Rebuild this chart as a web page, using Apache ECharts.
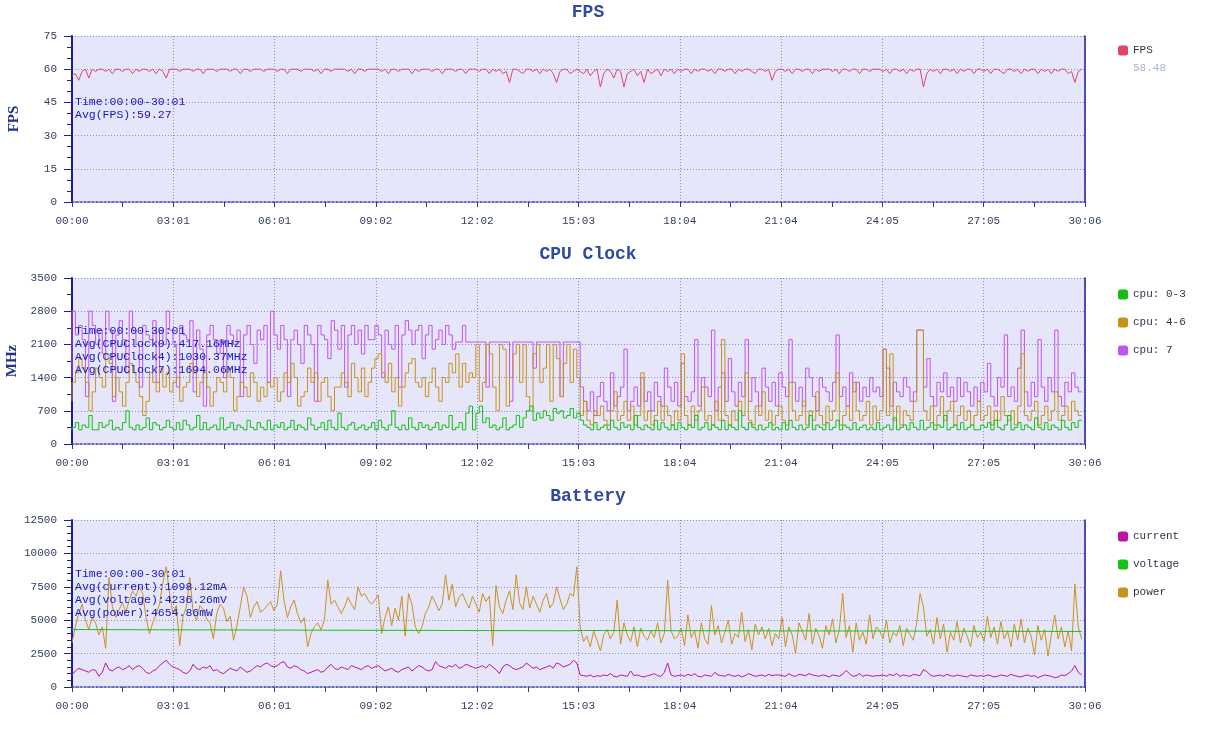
<!DOCTYPE html>
<html><head><meta charset="utf-8">
<script src="https://cdn.jsdelivr.net/npm/echarts@6/dist/echarts.min.js"></script>
<style>html,body{margin:0;padding:0;background:#fff}#c{width:1206px;height:732px}</style>
</head><body><div id="c"></div><script>
// ---- data ----
const DATA_SPAN = 1800; // seconds covered by each sampled series
const X_MAX = 1806;     // 30:06
const xTickLabels = ['00:00','03:01','06:01','09:02','12:02','15:03','18:04','21:04','24:05','27:05','30:06'];

// sampled every 6 s
const fps = [
57,58,55,59,60,56,60,59,60,60,59,60,58,60,60,59,60,60,58,60,59,60,60,59,60,58,60,59,56,60,
60,60,59,60,60,60,59,60,60,58,60,60,60,59,60,60,60,59,60,60,58,60,60,59,60,60,60,59,60,60,
60,59,60,60,58,60,60,60,59,60,60,60,59,60,58,60,60,59,60,60,60,60,59,60,58,60,60,59,60,60,
60,60,59,60,58,60,60,59,60,60,60,58,60,59,60,60,60,59,60,60,58,60,60,60,59,60,60,58,60,60,
60,59,60,60,58,60,59,60,58,59,54,60,60,59,58,60,60,59,60,58,60,59,60,58,54,59,60,60,58,59,
60,59,58,60,57,59,60,52,58,60,59,56,60,59,52,58,59,60,57,59,54,60,58,59,60,57,60,59,60,58,
60,59,60,60,58,60,59,60,60,59,60,58,60,60,59,60,60,58,60,59,60,60,59,58,60,60,59,60,55,59,
60,60,59,60,58,60,60,59,60,60,58,60,59,60,60,60,59,60,58,60,60,59,60,60,58,60,60,59,60,60,
60,59,60,58,60,60,59,60,58,60,59,60,60,52,58,60,59,60,58,60,60,59,60,58,60,59,60,60,58,60,
60,59,60,58,60,60,59,58,60,60,59,60,58,60,59,60,60,58,60,59,60,58,60,59,60,60,58,59,54,59,
60];

const cpu03 = [
300,350,450,300,400,350,600,300,300,450,350,400,500,300,350,300,450,700,350,300,400,300,350,550,300,450,400,300,350,500,
350,300,450,300,500,400,300,350,600,300,450,300,350,400,300,550,300,350,450,300,400,350,300,500,350,300,450,350,300,500,
300,400,350,450,300,350,500,300,400,350,300,550,400,300,350,450,300,500,350,300,650,350,300,400,450,300,350,400,300,350,
450,300,500,350,300,400,700,350,300,400,300,550,350,300,450,350,400,300,350,450,300,400,350,600,300,350,450,300,650,800,
300,650,800,450,550,350,400,300,350,550,300,350,400,600,350,550,700,800,500,650,550,700,600,500,750,650,700,550,600,750,
550,650,500,400,350,300,450,300,350,400,300,500,350,300,450,350,400,300,600,350,300,400,350,300,500,300,450,350,300,400,
300,450,350,300,400,350,600,300,350,450,300,400,350,300,500,300,400,350,300,700,350,300,450,350,300,400,300,350,450,300,
350,300,450,300,500,350,300,400,300,350,600,300,400,350,300,450,300,350,500,300,400,350,300,450,300,350,400,300,350,300,
450,300,350,400,300,550,300,350,400,300,450,350,300,500,300,350,450,300,400,350,600,300,350,400,300,450,300,350,400,300,
300,400,350,450,300,500,350,300,400,600,300,350,450,300,400,350,300,550,350,300,450,300,400,350,300,500,350,300,450,350,
500];

const cpu46 = [
900,1300,1500,1800,1600,1300,700,1100,1600,1400,1200,1900,1700,1000,1400,1100,800,1300,1700,1500,1300,1000,600,900,1500,1300,1100,1600,1200,1500,
1100,1300,1400,900,1200,1300,1700,1500,1000,1300,1500,1200,800,1100,1400,1300,1100,1600,1400,700,1000,1300,1200,1000,1500,1300,900,1200,1000,1300,
1200,1400,900,1100,1500,1300,1700,1400,800,1000,1100,1600,1300,1500,900,1300,1400,1000,700,1200,1200,1500,1300,1000,1700,1400,1100,1600,1000,1300,
1600,1800,1900,1500,1300,1700,1100,1400,800,1200,1500,1700,1800,1300,1200,1400,1000,1300,1600,1200,900,1400,1300,1700,1500,1900,1200,1700,1300,1500,
1400,2100,900,1300,2100,1900,1200,700,2100,2000,800,1400,1900,2100,1300,2100,1000,700,1900,2100,1300,1600,2100,900,2100,1800,1000,1700,2100,1300,
2000,1400,600,900,500,400,700,600,800,500,400,700,1100,500,600,900,500,800,400,600,1500,500,700,400,600,900,500,800,600,400,
700,500,1900,600,400,800,500,700,1200,500,600,400,900,500,2200,600,400,700,500,900,600,1500,500,400,800,600,1100,500,700,400,
600,800,500,400,1300,700,500,600,900,400,700,500,1100,600,400,800,500,700,1500,400,600,800,500,1300,700,500,600,900,400,800,
500,700,2000,600,1900,500,800,400,700,600,500,900,2400,2400,700,500,800,400,600,1000,500,700,900,400,600,800,500,700,400,600,
900,500,600,800,400,700,500,1000,600,500,700,400,800,1900,600,500,700,900,400,600,800,500,700,1100,500,600,800,500,900,700,
600];

const cpu7 = [
1400,2800,2300,2500,2200,1000,2800,2500,2100,2400,1900,2800,2400,900,2300,2600,2200,1500,2800,2400,2100,1200,2500,2300,2200,2600,1300,2400,2100,2800,
2400,2100,1200,2500,2300,2200,2600,1100,2400,2000,800,2300,2500,2200,1900,2200,1400,2500,2300,2100,2400,1000,2300,2500,2100,1700,2400,2200,2500,1300,
2800,2300,2000,2500,2200,1000,2200,2400,2100,1700,2500,2300,2100,900,2500,2300,2200,1800,2600,2400,2000,2500,1200,2300,2500,2100,2400,1900,2500,2200,
2200,2500,2300,1400,2400,2100,2000,2500,1200,2300,2600,2400,2100,2400,2500,1800,2300,2500,2000,2200,2400,2100,2500,2300,2000,2150,2150,2500,2150,2150,
2150,2150,2150,2150,1200,2150,2150,2150,2150,2150,2150,900,2150,2150,2150,2150,2150,2150,1600,2150,2150,2150,2150,2150,2150,2150,1000,2150,2150,2150,
2150,2150,1200,900,700,1100,600,1000,1300,900,700,1500,800,1000,1200,2000,700,900,1200,800,1400,900,1100,700,1300,1000,800,1600,1200,900,
1300,800,1700,1000,900,1100,2200,800,1400,1200,1000,2400,700,1200,1500,900,1800,1100,800,1300,1000,2200,900,1400,1100,800,1600,1200,900,1300,
800,1500,1200,1000,2200,1300,900,1200,800,1600,1400,1000,700,1400,1200,1100,900,1300,2300,1000,1200,800,1500,1100,1300,900,1200,1000,1400,1100,
1200,1000,2000,1600,800,1300,1100,1000,1400,1200,900,1100,2400,2400,1200,1800,1000,800,1300,1100,1500,1000,1200,900,1400,1000,1300,1100,800,1200,
900,1300,1100,1700,1000,800,1400,1200,2300,1000,1200,900,1600,2400,1100,800,1300,1000,2200,1200,900,1400,1100,2400,1000,800,1300,1100,1500,1200,
1100];

const current = [
900,1200,1400,1300,1200,1100,1300,1250,800,1100,1800,1300,1200,1400,1500,1300,1400,1600,1300,1500,1600,1400,1100,1000,1200,1300,1600,1800,2000,1700,
1500,1400,1300,1100,1000,1200,1700,1400,1300,1500,1400,1600,1200,1300,1100,1000,1200,1400,1300,1200,1500,1300,1100,1200,1400,1600,1500,1700,1800,1600,
1500,1600,1800,1900,1500,1400,1600,1500,1300,1200,1000,1100,1200,1300,1100,1200,1500,1700,1400,1300,1500,1400,1300,1600,1500,1400,1300,1500,1600,1400,
1500,1600,1400,1200,1300,1400,1200,1100,1300,1400,1500,1200,1400,1600,1500,1300,1200,1300,1900,1600,1500,1400,1600,1500,1700,1400,1500,1700,1600,1500,
1400,1500,1600,1400,1700,1500,1300,1000,1500,1700,1600,1400,1300,1400,1500,1800,1600,1400,1500,1300,1400,1500,1600,1400,1800,1700,1500,1600,1700,2000,
1800,900,850,800,900,750,850,800,900,850,1000,800,750,900,850,800,1200,850,900,800,750,850,900,1000,850,800,1100,1800,900,800,
850,900,800,950,850,1000,800,750,900,850,800,1100,900,850,800,950,850,800,900,750,850,1000,900,800,850,900,800,950,850,900,
900,850,800,1000,850,800,950,900,850,1000,900,850,800,900,850,750,900,850,800,950,1250,1000,800,850,1000,800,900,850,800,850,
850,900,800,950,850,1000,800,900,850,800,950,900,850,1300,1150,900,800,850,900,800,950,850,800,900,850,800,750,900,850,800,
850,800,900,850,750,800,900,850,800,950,850,800,750,850,900,800,850,700,800,900,850,800,700,750,900,850,1000,1200,1600,1100,
900];

const power = [
3300,4500,5500,6200,5000,4300,5200,4800,3900,4500,2900,8200,6000,5200,5800,6300,5600,6500,7200,6800,7500,7000,5200,4000,4800,5500,6200,7800,9000,7000,
5500,6100,3100,5300,6000,8200,5600,5000,6100,5800,5100,4800,3600,5500,6200,5900,4900,5300,3500,4600,6000,7500,6800,5200,6000,6400,5600,5800,6100,6400,
5700,6200,8700,6500,5200,6000,6500,5500,4800,5200,3000,4000,4500,4800,4300,5000,8000,6200,6500,6000,5500,6000,6700,6200,5800,7500,6800,7000,6500,6200,
6500,6900,4000,5200,6000,4600,5900,5000,6800,3800,7000,6200,4500,4000,4500,5500,6000,6800,6300,5700,6200,8400,6500,7700,6000,6700,7000,6400,5900,6800,
6200,5600,7000,6400,6800,3100,7600,6000,5500,6500,7200,5800,8400,6300,5800,7500,5900,6800,6200,5600,6500,7000,5900,6300,7500,6600,5800,6200,7000,6800,
9000,4500,3400,3800,3000,4200,3500,2700,3900,4300,3600,4100,6500,3200,4800,3900,3400,4500,3000,4400,3800,3500,4200,3700,4800,3300,4000,8000,4200,3600,
3800,4400,3100,5400,3700,4200,2900,4800,3600,3200,6100,3900,4600,3300,4100,5000,3200,4000,3700,5600,3400,4300,2800,4700,3900,4500,3600,4400,3100,4000,
3600,5200,3000,4500,3900,2500,4800,4200,3500,5500,3200,4400,3800,2900,4600,3900,5100,3300,4300,7000,3700,4600,2600,4800,3500,4100,3200,5400,3600,4500,
4200,3600,5000,3300,4100,3800,4600,3100,4400,3900,3500,4800,7000,6000,3800,4300,3200,5200,3600,4700,2600,4100,3500,4900,3300,4400,3800,3000,4600,3700,
4100,3400,5300,3700,4500,3200,4900,3600,4200,3000,4700,3500,5100,3300,4400,3800,2400,4600,3500,4300,2300,3900,5400,3600,4500,3000,4200,2700,7700,4500,
3600];

// sampled every 12 s
const voltage = [
4300,4300,4300,4295,4295,4295,4290,4290,4290,4290,4285,4285,4285,4285,4280,
4280,4280,4280,4275,4275,4275,4275,4270,4270,4270,4270,4265,4265,4265,4265,
4260,4260,4260,4260,4255,4255,4255,4255,4250,4250,4250,4250,4250,4245,4245,
4245,4245,4240,4240,4240,4240,4235,4235,4235,4235,4230,4230,4230,4230,4230,
4225,4225,4225,4225,4220,4220,4220,4220,4215,4215,4215,4215,4210,4210,4210,
4230,4230,4230,4230,4225,4225,4225,4225,4225,4220,4220,4220,4220,4220,4215,
4215,4215,4215,4215,4210,4210,4210,4210,4210,4205,4205,4205,4205,4205,4200,
4200,4200,4200,4200,4200,4195,4195,4195,4195,4195,4190,4190,4190,4190,4190,
4190,4185,4185,4185,4185,4185,4180,4180,4180,4180,4180,4175,4175,4175,4175,
4175,4170,4170,4170,4170,4170,4165,4165,4165,4165,4165,4160,4160,4160,4160,
4160];

const fpsNotes = ['Time:00:00-30:01','Avg(FPS):59.27'];
const cpuNotes = ['Time:00:00-30:01','Avg(CPUClock0):417.16MHz','Avg(CPUClock4):1030.37MHz','Avg(CPUClock7):1694.06MHz'];
const batNotes = ['Time:00:00-30:01','Avg(current):1098.12mA','Avg(voltage):4236.26mV','Avg(power):4654.86mW'];
const fpsLegendSub = '58.48';

// ---- chart ----
const MONO = '"Liberation Mono","DejaVu Sans Mono",monospace';
const AXIS_BLUE = '#1c1ca0';
const LABEL_C = '#33405f';
const SPLIT_C = '#8a8ad0';

function pairs(vals){ const step = DATA_SPAN/(vals.length-1); return vals.map((v,i)=>[i*step, v]); }

const grids = [
  {left:72, top:36, width:1013, height:166},
  {left:72, top:278, width:1013, height:166},
  {left:72, top:520, width:1013, height:167}
].map(g => Object.assign(g, {show:true, backgroundColor:'#e6e6fa', borderWidth:0, containLabel:false, outerBoundsMode:'none'}));

function mkX(gi){
  return {type:'value', gridIndex:gi, min:0, max:X_MAX, interval:X_MAX/10,
    axisLine:{show:true, onZero:false, lineStyle:{color:'#3a4ab0', type:[2,2], width:1.5}},
    axisTick:{show:true, length:5, lineStyle:{color:'#2a3a90'}},
    minorTick:{show:true, splitNumber:2, length:5, lineStyle:{color:'#2a3a90'}},
    axisLabel:{color:LABEL_C, fontFamily:MONO, fontSize:11, margin:14,
      formatter:(v)=>{ const k=Math.round(v/(X_MAX/10)); return xTickLabels[k] ?? ''; }},
    splitLine:{show:true, lineStyle:{color:SPLIT_C, type:[1,2], width:1}}
  };
}
function mkY(gi, max, interval, minorSplit, name){
  return {type:'value', gridIndex:gi, min:0, max:max, interval:interval,
    name:name||'', nameLocation:'middle', nameGap:50,
    nameTextStyle:{fontFamily:'"Liberation Serif","DejaVu Serif",serif', fontWeight:'bold', fontSize:15, color:'#223388'},
    axisLine:{show:true, onZero:false, lineStyle:{color:AXIS_BLUE, width:2}},
    axisTick:{show:true, length:8, lineStyle:{color:AXIS_BLUE}},
    minorTick:{show:true, splitNumber:minorSplit, length:5, lineStyle:{color:AXIS_BLUE}},
    axisLabel:{color:LABEL_C, fontFamily:MONO, fontSize:11, margin:15, formatter:(v)=>String(v)},
    splitLine:{show:true, lineStyle:{color:SPLIT_C, type:[1,2], width:1}}
  };
}
function mkR(gi, max){
  return {type:'value', gridIndex:gi, position:'right', min:0, max:max,
    axisLine:{show:true, onZero:false, lineStyle:{color:AXIS_BLUE, width:1.5}},
    axisTick:{show:false}, axisLabel:{show:false}, splitLine:{show:false}};
}
function line(name, data, xi, color, step){
  return {name, type:'line', xAxisIndex:xi, yAxisIndex:xi, data:pairs(data), color,
    symbol:'none', showSymbol:false, step:step||false, lineStyle:{width:1, color},
    emphasis:{disabled:true}, silent:true, animation:false};
}
function legend(names, top){
  return {data:names, left:1113, top, orient:'vertical', icon:'roundRect',
    itemWidth:10, itemHeight:10, itemGap:17, selectedMode:false,
    textStyle:{fontFamily:MONO, fontSize:11, color:'#333348'}};
}
function notes(lines, y){
  return {type:'text', left:75, top:y, silent:true, z:100,
    style:{text:lines.join('\n'), fill:'#1414cc', font:'11.5px ' + MONO, lineHeight:13}};
}
function titleText(t, y){
  return {type:'text', x:588, y:y, silent:true,
    style:{text:t, fill:'#2f4a9e', font:'bold 18px ' + MONO, textAlign:'center', textVerticalAlign:'middle'}};
}

const chart = echarts.init(document.getElementById('c'), null, {renderer:'canvas'});
chart.setOption({
  animation:false,
  backgroundColor:'#ffffff',
  grid:grids,
  xAxis:[mkX(0), mkX(1), mkX(2)],
  yAxis:[mkY(0,75,15,3,'FPS'), mkY(1,3500,700,2,'MHz'), mkY(2,12500,2500,5,''), mkR(0,75), mkR(1,3500), mkR(2,12500)],
  legend:[legend(['FPS'],40), legend(['cpu: 0-3','cpu: 4-6','cpu: 7'],284), legend(['current','voltage','power'],526)],
  series:[
    line('FPS', fps, 0, '#de4668'),
    line('cpu: 7', cpu7, 1, '#c254ee', 'start'),
    line('cpu: 4-6', cpu46, 1, '#c8921a', 'start'),
    line('cpu: 0-3', cpu03, 1, '#12c012', 'start'),
    line('power', power, 2, '#c8921e'),
    line('current', current, 2, '#c010a6'),
    line('voltage', voltage, 2, '#14c414')
  ],
  graphic:[
    titleText('FPS', 12), titleText('CPU Clock', 254), titleText('Battery', 496),
    notes(fpsNotes, 95), notes(cpuNotes, 324), notes(batNotes, 567),
    {type:'text', left:1133, top:63, silent:true, style:{text:fpsLegendSub, fill:'#a8b4d4', font:'11px ' + MONO}}
  ]
});
</script></body></html>
